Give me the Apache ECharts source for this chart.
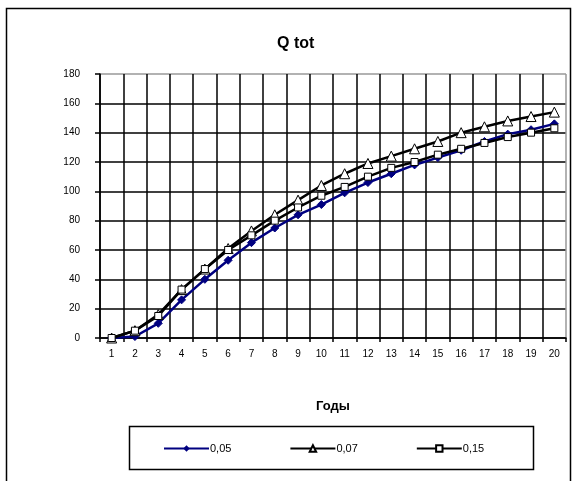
<!DOCTYPE html>
<html>
<head>
<meta charset="utf-8">
<script src="https://cdn.jsdelivr.net/npm/echarts@6/dist/echarts.min.js"></script>
<style>
html,body{margin:0;padding:0;background:#fff;}
#c{width:574px;height:481px;}
</style>
</head>
<body>
<div id="c"></div>
<script>
var categories = ['1','2','3','4','5','6','7','8','9','10','11','12','13','14','15','16','17','18','19','20'];
var yTicks = [0,20,40,60,80,100,120,140,160,180];
var s005 = [0,1,10,26,40,53,65,75,84,91,99,106,112,118,123,128,134,139,142,146];
var s007 = [0,5,16,33,47,61,73,84,94,104,112,119,124,129,134,140,144,148,151,154];
var s015 = [0,5,15,33,47,60,70,80,89,97,103,110,116,120,125,129,133,137,140,143];
var names = ['0,05','0,07','0,15'];

var chart = echarts.init(document.getElementById('c'), null, {renderer:'canvas'});
var font = 'Liberation Sans, Arial, sans-serif';
var ySplitColors = yTicks.map(function(v,i){return i===yTicks.length-1?'#999':'#000';});
var xSplitColors = [];
for (var i=0;i<=categories.length;i++) xSplitColors.push(i===categories.length?'#999':'#000');

chart.setOption({
  animation:false,
  backgroundColor:'#fff',
  textStyle:{fontFamily:font},
  title:{text:'Q tot', left:272, top:31, textStyle:{fontSize:16, fontWeight:'bold', color:'#000', fontFamily:font}},
  grid:{left:100, right:8, top:74, bottom:143, containLabel:false},
  xAxis:{
    type:'category', data:categories, boundaryGap:true,
    name:'Годы', nameLocation:'middle', nameGap:62,
    nameTextStyle:{fontSize:13, fontWeight:'bold', color:'#000', fontFamily:font},
    axisLine:{lineStyle:{color:'#000', width:1.5}},
    axisTick:{show:true, length:4, lineStyle:{color:'#000', width:1.5}},
    axisLabel:{color:'#000', fontSize:10, margin:11, interval:0, fontFamily:font},
    splitLine:{show:true, lineStyle:{color:xSplitColors, width:1.5}}
  },
  yAxis:{
    type:'value', min:0, max:180, interval:20,
    axisLine:{show:true, lineStyle:{color:'#000', width:1.5}},
    axisTick:{show:true, length:5, lineStyle:{color:'#000', width:1.5}},
    axisLabel:{color:'#000', fontSize:10, margin:20, fontFamily:font},
    splitLine:{show:true, lineStyle:{color:ySplitColors, width:1.5}}
  },
  legend:{
    left:158, top:438, itemGap:58, itemWidth:45, itemHeight:8,
    textStyle:{fontSize:11, color:'#000', fontFamily:font, padding:[0,0,0,-4]},
    data:names
  },
  graphic:[
    {type:'rect', shape:{x:6.5, y:8.5, width:564, height:490}, style:{fill:null, stroke:'#000', lineWidth:1.5}, silent:true, z:-1},
    {type:'rect', shape:{x:129.5, y:426.5, width:404, height:43}, style:{fill:null, stroke:'#000', lineWidth:1.5}, silent:true}
  ],
  series:[
    {name:names[0], type:'line', data:s005, symbol:'diamond', symbolSize:8, showAllSymbol:true,
      itemStyle:{color:'#000080', borderColor:'#000080'}, lineStyle:{color:'#000080', width:2.5}, z:3},
    {name:names[1], type:'line', data:s007, symbol:'triangle', symbolSize:10, showAllSymbol:true,
      itemStyle:{color:'#fff', borderColor:'#000', borderWidth:1}, lineStyle:{color:'#000', width:2.5}, z:4},
    {name:names[2], type:'line', data:s015, symbol:'rect', symbolSize:7, showAllSymbol:true,
      itemStyle:{color:'#fff', borderColor:'#000', borderWidth:1}, lineStyle:{color:'#000', width:2.5}, z:5}
  ]
});
</script>
</body>
</html>
